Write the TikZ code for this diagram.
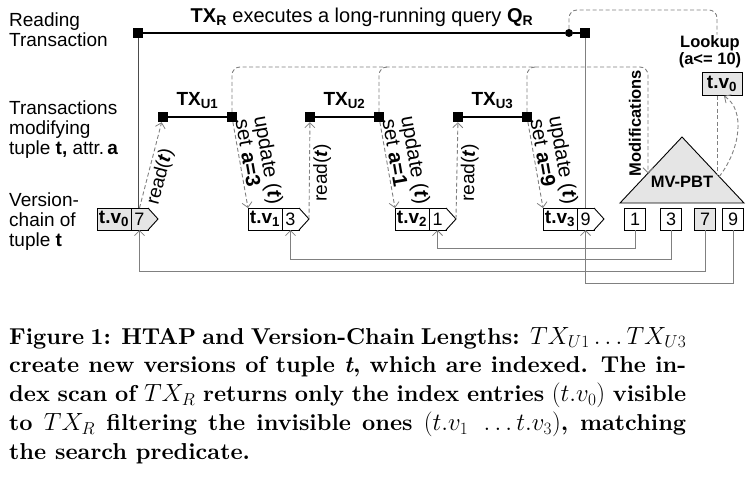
\documentclass[tikz,border=0pt]{standalone}
\usepackage{amsmath}
\usepackage{fontspec}
\setmainfont{Liberation Sans}
\newfontfamily\capfont{lmroman10}[Extension=.otf,UprightFont=*-regular,BoldFont=*-bold,ItalicFont=*-italic,BoldItalicFont=*-bolditalic]
\usetikzlibrary{arrows.meta,calc}

\definecolor{boxgray}{gray}{0.9}
\definecolor{linegray}{gray}{0.5}
\tikzset{
  sq/.style={fill=black,minimum size=10pt,inner sep=0pt},
  rdot/.style={circle,fill=black,minimum size=8pt,inner sep=0pt},
  txline/.style={line width=1.6pt},
  cell/.style={draw,line width=0.9pt,minimum height=22pt,inner sep=0pt,outer sep=0pt,font=\fontsize{18}{18}\selectfont},
  idx/.style={cell,minimum width=21pt},
  arr/.style={-{Straight Barb[length=5pt,width=10pt,line width=0.8pt]}},
  idxline/.style={linegray,line width=1pt},
  dsh/.style={gray,line width=0.9pt,dash pattern=on 4pt off 2.5pt},
  bold/.style={font=\fontsize{16.5}{17}\selectfont\bfseries},
  txt/.style={text=black,font=\fontsize{19}{20}\selectfont},
  updtxt/.style={text=black,inner sep=2pt,font=\fontsize{20.5}{19}\selectfont},
  lbl/.style={anchor=north west,align=left,inner sep=0pt,font=\fontsize{19}{20}\selectfont},
}

\begin{document}
\begin{tikzpicture}[x=1pt,y=-1pt]
        \useasboundingbox (0,0) rectangle (749,490);
        % left labels
        \node[lbl] (lread) at (9,13) {Reading\\Transaction};
        \node[lbl] (lmod) at (9,101) {Transactions\\modifying\\tuple \textbf{t,} attr.\,\textbf{a}};
        \node[lbl] (lchain) at (9,193) {Version-\\chain of\\tuple \textbf{t}};
        % reading transaction
        \node[sq] (rs) at (138,33) {};
        \node[rdot] (rd) at (569,33) {};
        \node[sq] (re) at (585,33) {};
        \draw[txline] (rs) -- (rd) -- (re);
        \node[anchor=base,font=\fontsize{20}{20}\selectfont] (rlabel) at (362,22) {\textbf{TX\textsubscript{R}} executes a long-running query \textbf{Q\textsubscript{R}}};
        % updating transactions
        \foreach \n/\x in {1/163,2/310,3/458}
        {
        \node[sq] (ua\n) at (\x,117) {};
        \node[sq] (ub\n) at (\x+69,117) {};
        \draw[txline] (ua\n) -- (ub\n);
        \node[anchor=base,font=\fontsize{19}{19}\selectfont\bfseries] (ul\n) at ($(ua\n)!.5!(ub\n)+(0,-12)$) {TX\textsubscript{U\n}};
        }
        % version chain
        \foreach \n/\x/\val/\col in {0/97/7/boxgray,1/248/3/white,2/395/1/white,3/543/9/white}
        {
        \node[cell,fill=\col,minimum width=34pt,anchor=west,font=\fontsize{19}{19}\selectfont\bfseries] (v\n) at (\x,219) {t.v\textsubscript{\n}};
        \node[cell,fill=\col,minimum width=17pt,anchor=west] (val\n) at (v\n.east) {\val};
        \draw[line width=0.9pt,fill=\col] (val\n.north east) -- ++(10,11) coordinate (nx\n) -- (val\n.south east);
        }
        % index entries
        \foreach \val/\x/\col in {1/635/white,3/671/white,7/705/boxgray,9/733/white}
        {
        \node[idx,fill=\col] (i\val) at (\x,219) {\val};
        }
        \foreach \val/\lev/\n in {1/18/2,3/29/1,7/41/0,9/53/3}
        {
        \draw[idxline,arr] (i\val.south) -- ++(0,\lev) -| (val\n.south);
        }
        \draw[black!70,line width=1pt] (rs) -- (rs |- val0.north);
        \draw[idxline] (re) -- (re |- val3.north);
        % read and update
        \draw[dsh,arr] (val0.north) -- node[txt,sloped,below,pos=0.4]{read(\textbf{\textit{t}})} (ua1);
        \draw[dsh,arr] (nx1) -- node[txt,sloped,below,pos=0.48]{read(\textbf{\textit{t}})} (ua2);
        \draw[dsh,arr] (nx2) -- node[txt,sloped,below,pos=0.48]{read(\textbf{\textit{t}})} (ua3);
        \foreach \n/\a in {1/3,2/1,3/9}
        {
        \draw[dsh,arr] (ub\n) -- node[updtxt,sloped,above,pos=0.5,align=left]{update (\textbf{\textit{t}})\\set \textbf{a=\a}} (v\n.north west);
        }
        % MV-PBT
        \coordinate (ttop) at (682,137);
        \coordinate (tleft) at (620,203);
        \coordinate (tright) at (744,203);
        \draw[line width=0.9pt,fill=boxgray] (ttop) -- (tright) -- (tleft) -- cycle;
        \node[bold] (pbt) at (682,182) {MV-PBT};
        \coordinate (modin) at ($(ttop)!0.55!(tleft)$);
        \coordinate (modc) at (648,67);
        \draw[dsh,arr,rounded corners=8pt] (ub1) |- (modc) -- (modc |- modin);
        \foreach \n in {2,3}
        {
        \draw[dsh,rounded corners=8pt] (ub\n) |- ($(ub\n |- modc)+(10,0)$);
        }
        \node[bold,rotate=90] (mods) at (635,123) {Modifications};
        % lookup
        \node[bold,align=center,inner sep=1pt] (look) at (710,52) {Lookup\\(a<= 10)};
        \coordinate (lookc) at (717,10);
        \draw[dsh,rounded corners=8pt] (rd) |- (lookc) -- (lookc |- look.north);
        \node[draw,fill=boxgray,line width=0.9pt,font=\fontsize{19}{19}\selectfont\bfseries,minimum width=40pt,minimum height=23pt,inner sep=0pt] (res) at (722,84) {t.v\textsubscript{0}};
        \coordinate (lookin) at ($(ttop)!0.565!(tright)$);
        \draw[dsh] (lookc |- res.south) -- (lookc |- lookin);
        \coordinate (lookout) at ($(ttop)!0.6!(tright)$);
        \draw[dsh,arr] (lookout) .. controls (740,150) and (746,110) .. ($(res.south)+(2,0)$);
        % caption
        \node[anchor=north west,inner sep=0pt,text width=677pt,align=justify,font=\capfont\bfseries\fontsize{23}{28.7}\selectfont] (cap) at (9,327) {Figure 1: HTAP and Version-Chain Lengths: $TX_{U1}\ldots TX_{U3}$\linebreak create new versions of tuple \textit{t}, which are indexed. The in-\linebreak dex scan of $TX_R$ returns only the index entries $(t.v_0)$ visible\linebreak to $TX_R$ filtering the invisible ones $(t.v_1\ \ldots t.v_3)$, matching\linebreak the search predicate.};
\end{tikzpicture}
\end{document}
